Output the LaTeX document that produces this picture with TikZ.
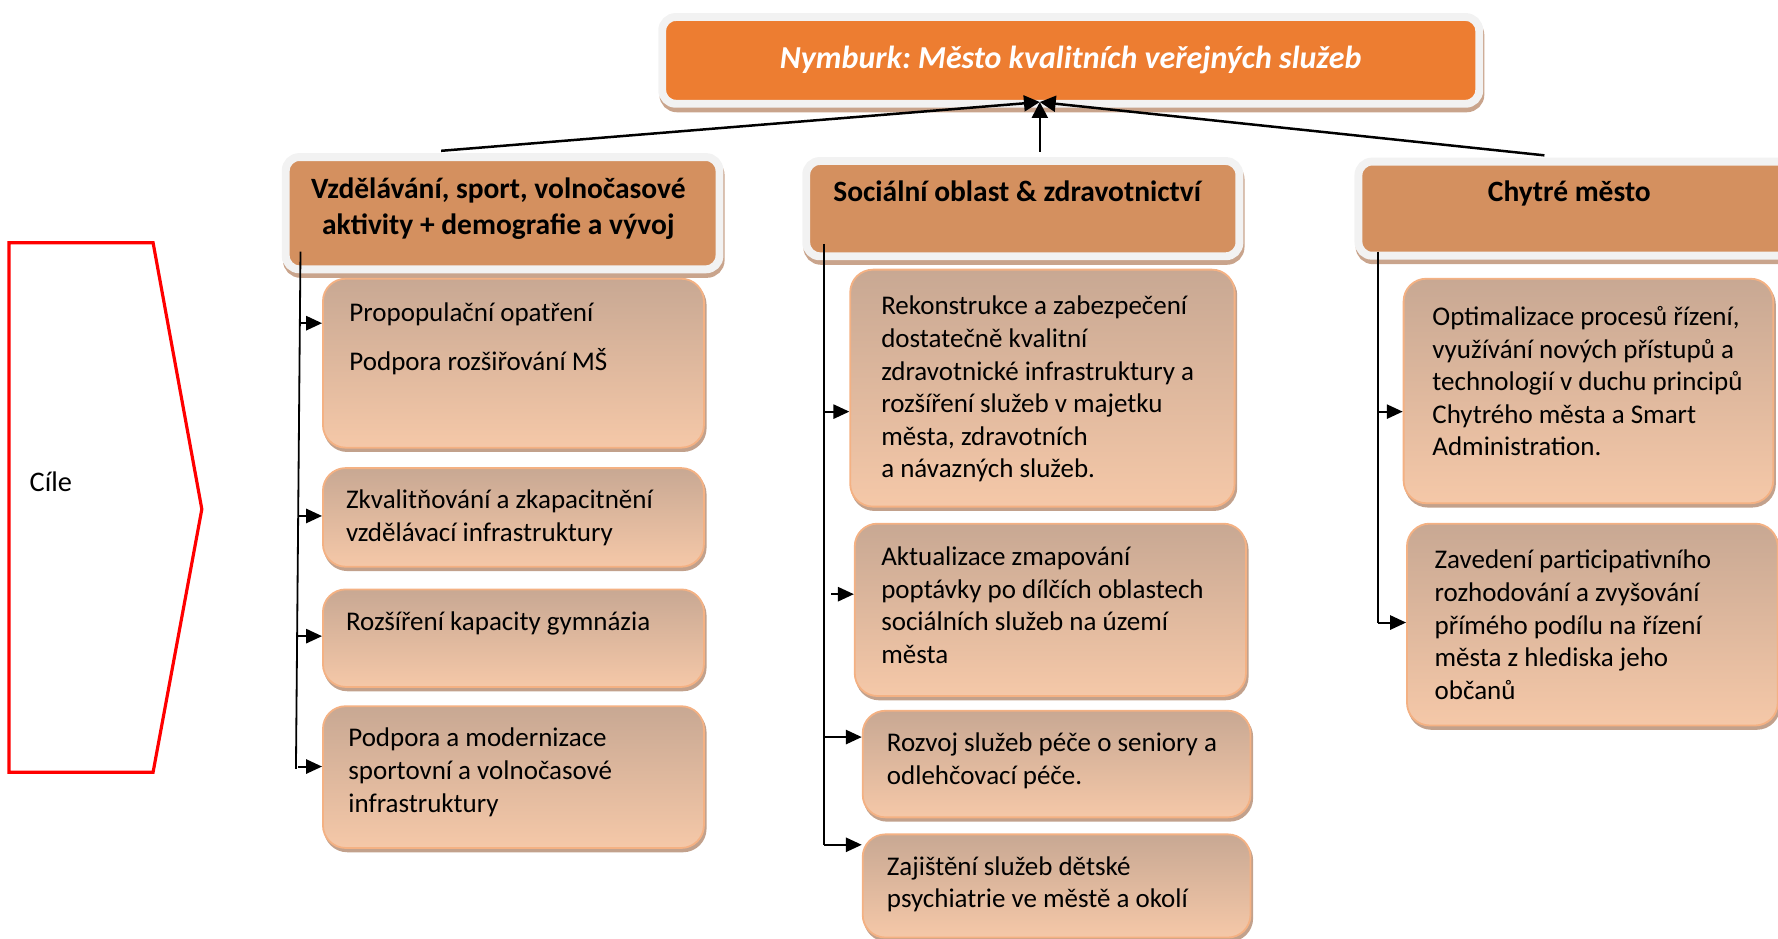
\documentclass[tikz,border=0pt]{standalone}
\usepackage{fontspec}
\setmainfont{Carlito}
\usetikzlibrary{arrows.meta,calc}
\definecolor{cTitle}{HTML}{ED7D31}
\definecolor{cHead}{HTML}{D4905F}
\definecolor{cFrame}{HTML}{F2F2F2}
\definecolor{cHeadShadow}{HTML}{C9A48C}
\definecolor{cTop}{HTML}{C8A893}
\definecolor{cBot}{HTML}{F5C8A8}
\definecolor{cBorder}{HTML}{F4B183}
\definecolor{cChildShadow}{HTML}{C2A18C}
\frenchspacing
\begin{document}
\begin{tikzpicture}[x=1pt,y=-1pt,
  framed/.style={draw=cFrame, line width=7pt, rounded corners=12pt, inner sep=0pt, anchor=north west,
    preaction={draw=cHeadShadow, fill=cHeadShadow, line width=7pt, transform canvas={xshift=1pt,yshift=-4pt}}},
  titlebox/.style={framed, fill=cTitle},
  headbox/.style={framed, fill=cHead},
  childbox/.style={draw=cBorder, line width=1.6pt, top color=cTop, bottom color=cBot, rounded corners=20pt,
    inner sep=0pt, anchor=north west,
    preaction={draw=cChildShadow, fill=cChildShadow, line width=1.6pt, transform canvas={xshift=1.5pt,yshift=-3pt}}},
  headtxt/.style={font=\bfseries\fontsize{26}{31}\selectfont, align=center, text=black},
  childtxt/.style={font=\fontsize{23.8}{28.7}\selectfont, align=left, anchor=north west, inner sep=0pt, text=black},
  arr/.style={line width=2.2pt, -{Triangle[length=14pt,width=14pt]}},
  trunk/.style={line width=1.6pt},
  carr/.style={line width=1.8pt, -{Triangle[length=14pt,width=12.5pt]}}
]
\useasboundingbox (0,0) rectangle (1568,828);

% Title
\node[titlebox, minimum width=720.5pt, minimum height=76.5pt] (T) at (580.5,11.5) {};
\node[font=\bfseries\itshape\fontsize{28.2}{33}\selectfont, text=white] (Tt) at (T.center) {Nymburk: Město kvalitních veřejných služeb};

% Heads
\node[headbox, minimum width=382.5pt, minimum height=99pt] (HL) at (248.5,135) {};
\node[headtxt] (HLt) at (439.5,184) {Vzdělávání, sport, volnočasové\\aktivity + demografie a vývoj};
\node[headbox, minimum width=382pt, minimum height=84pt] (HM) at (707.5,138.5) {};
\node[headtxt] (HMt) at (897,169) {Sociální oblast \& zdravotnictví};
\node[headbox, minimum width=390pt, minimum height=83pt] (HR) at (1194.5,139) {};
\node[headtxt] (HRt) at (1384,170.5) {Chytré město};

% Connectors to title
\coordinate (Tin) at (917,90);
\coordinate (cL) at (389,133);
\coordinate (cM) at (917,134);
\coordinate (cR) at (1362,137);
\draw[arr] (cL) -- (Tin);
\draw[arr] (cM) -- (Tin);
\draw[arr] (cR) -- (Tin);

% Cíle
\draw[red, line width=2.8pt, line join=miter] (8,214) -- (135,214) -- (178,449) -- (135,681) -- (8,681) -- cycle;
\node[font=\fontsize{25}{30}\selectfont, anchor=west, inner sep=0pt] (cile) at (26,425) {Cíle};

% Left children
\node[childbox, minimum width=336pt, minimum height=149pt] (L1) at (284,245) {};
\node[childtxt] at (308,267) {Propopulační opatření\\[14.3pt]Podpora rozšiřování MŠ};
\node[childbox, minimum width=336pt, minimum height=87pt] (L2) at (284,412) {};
\node[childtxt] at (305,432) {Zkvalitňování a zkapacitnění\\vzdělávací infrastruktury};
\node[childbox, minimum width=336pt, minimum height=86pt] (L3) at (284,519) {};
\node[childtxt] at (305,539) {Rozšíření kapacity gymnázia};
\node[childbox, minimum width=336pt, minimum height=125pt] (L4) at (284,622) {};
\node[childtxt] at (307,642) {Podpora a modernizace\\sportovní a volnočasové\\infrastruktury};

\coordinate (tL0) at (265,222);
\coordinate (tL1) at (261,678);
\draw[trunk] (tL0) -- (tL1);
\coordinate (aL1) at (264.5,285);
\coordinate (aL2) at (263,455);
\coordinate (aL3) at (262.5,561);
\coordinate (aL4) at (263,676);
\draw[carr] (aL1) -- (aL1 -| L1.west);
\draw[carr] (aL2) -- (aL2 -| L2.west);
\draw[carr] (aL3) -- (aL3 -| L3.west);
\draw[carr] (aL4) -- (aL4 -| L4.west);

% Middle children
\node[childbox, minimum width=339pt, minimum height=209pt] (M1) at (749,237) {};
\node[childtxt] at (777,261) {Rekonstrukce a zabezpečení\\dostatečně kvalitní\\zdravotnické infrastruktury a\\rozšíření služeb v majetku\\města, zdravotních\\a návazných služeb.};
\node[childbox, minimum width=345pt, minimum height=152pt] (M2) at (753,461) {};
\node[childtxt] at (777,482) {Aktualizace zmapování\\poptávky po dílčích oblastech\\sociálních služeb na území\\města};
\node[childbox, minimum width=342pt, minimum height=94pt] (M3) at (760,626) {};
\node[childtxt] at (782,646) {Rozvoj služeb péče o seniory a\\odlehčovací péče.};
\node[childbox, minimum width=342pt, minimum height=91pt] (M4) at (760,735) {};
\node[childtxt] at (782,755) {Zajištění služeb dětské\\psychiatrie ve městě a okolí};

\coordinate (tM0) at (727,215);
\coordinate (tM1) at (727,745);
\draw[trunk] (tM0) -- (tM1);
\coordinate (aM1) at (727,363);
\coordinate (aM2) at (733,524);
\coordinate (aM3) at (727,650);
\draw[carr] (aM1) -- (aM1 -| M1.west);
\draw[carr] (aM2) -- (aM2 -| M2.west);
\draw[carr] (aM3) -- (aM3 -| M3.west);
\draw[carr] (tM1) -- (tM1 -| M4.west);

% Right children
\node[childbox, minimum width=326pt, minimum height=198pt] (R1) at (1237,245) {};
\node[childtxt] at (1263,270) {Optimalizace procesů řízení,\\využívání nových přístupů a\\technologií v duchu principů\\Chytrého města a Smart\\Administration.};
\node[childbox, minimum width=327pt, minimum height=178pt] (R2) at (1240,461) {};
\node[childtxt] at (1265,485) {Zavedení participativního\\rozhodování a zvyšování\\přímého podílu na řízení\\města z hlediska jeho\\občanů};

\coordinate (tR0) at (1215,222);
\coordinate (tR1) at (1215,549);
\draw[trunk] (tR0) -- (tR1);
\coordinate (aR1) at (1215,363);
\draw[carr] (aR1) -- (aR1 -| R1.west);
\draw[carr] (tR1) -- (tR1 -| R2.west);
\end{tikzpicture}
\end{document}
